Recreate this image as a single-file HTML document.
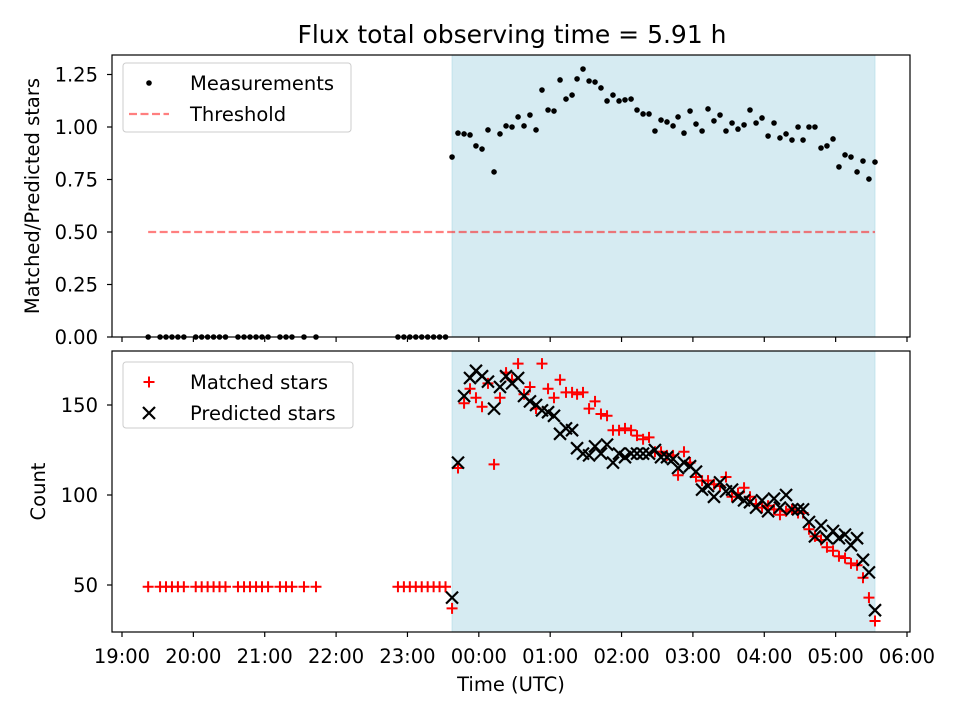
<!DOCTYPE html>
<html><head><meta charset="utf-8"><style>
html,body{margin:0;padding:0;background:#fff;}
svg{display:block;font-family:"DejaVu Sans","Liberation Sans",sans-serif;}
</style></head><body>
<svg id="chart" width="960" height="720" viewBox="0 0 960 720">
<text x="512" y="43" font-size="25" text-anchor="middle">Flux total observing time = 5.91 h</text>
<g id="topPanel"></g>
<g id="botPanel"></g>
</svg>
<script>
// time in minutes after 19:00
const earlyTimes=[22,32,37,42,47,52,62,67,72,77,82,87,97.5,102.6,107.6,112.7,117.7,122.8,132.8,137.9,142.9,153,163.1,232,237,242,247,252,257,262,267,272];
const earlyMatched=[49,49,49,49,49,49,49,49,49,49,49,49,49,49,49,49,49,49,49,49,49,49,49,49,49,49,49,49,49,49,49,49];
const earlyRatio=[0,0,0,0,0,0,0,0,0,0,0,0,0,0,0,0,0,0,0,0,0,0,0,0,0,0,0,0,0,0,0,0];
const obsTimes=[277.5,282.5,287.6,292.6,297.6,302.7,307.7,312.8,317.8,322.9,327.9,333.0,338.0,343.0,348.1,353.1,358.2,363.2,368.3,373.3,378.4,382.6,387.6,392.7,397.7,402.7,407.8,412.8,417.9,422.9,428.0,433.0,438.1,443.1,448.1,453.2,458.2,463.3,467.5,472.5,477.6,482.6,487.7,492.7,497.7,502.8,507.8,512.9,517.9,523.0,528.0,533.1,538.1,543.2,548.2,553.2,558.3,563.3,568.4,572.6,577.6,582.6,587.7,592.7,597.8,602.8,607.9,612.9,618.0,623.0,628.0,633.1];
const ratio=[0.857,0.971,0.967,0.962,0.91,0.895,0.986,0.786,0.967,1.005,1.0,1.048,1.005,1.057,0.986,1.176,1.081,1.076,1.224,1.133,1.152,1.229,1.276,1.219,1.214,1.186,1.124,1.152,1.124,1.129,1.133,1.081,1.062,1.062,0.981,1.033,1.024,1.005,1.048,0.971,1.076,1.014,0.981,1.086,1.029,1.057,0.981,1.019,0.99,1.01,1.081,1.019,1.043,0.957,1.019,0.948,0.967,0.938,1.0,0.938,1.0,1.0,0.9,0.91,0.943,0.81,0.867,0.857,0.786,0.838,0.752,0.833];
const matched=[37,115,151,159,154,149,162,117,154,168,164,173,156,160,148,173,159,154,164,157,157,156,157,148,152,145,144,136,136,137,136,133,131,132,124,124,122,122,111,124,118,110,108,108,106,105,110,99,101,104,99,95,93,94,92,89,91,92,90,90,81,77,75,71,69,66,65,62,61,54,43,30];
const predicted=[43,118,155,165,169,166,163,148,160,166,162,165,155,152,150,147,146,144,134,137,136,126,123,122,127,123,128,118,123,121,123,123,123,123,125,121,121,120,115,118,116,113,103,105,99,107,102,103,99,97,96,93,97,91,98,93,100,92,92,92,85,77,83,76,80,76,78,72,76,64,57,36];
const thresholdValue=0.5;
const xTickLabels=["19:00","20:00","21:00","22:00","23:00","00:00","01:00","02:00","03:00","04:00","05:00","06:00"];
const xTickMinutes=[0,60,120,180,240,300,360,420,480,540,600,660];
const topTicks=[0,0.25,0.5,0.75,1.0,1.25];
const botTicks=[50,100,150];

const NS="http://www.w3.org/2000/svg";
const FS=19.5;
function mk(parent,tag,attrs){const e=document.createElementNS(NS,tag);for(const k in attrs)e.setAttribute(k,attrs[k]);parent.appendChild(e);return e;}
const L=112,R=910;
const xs=m=>122+m*(785/660);
const PT={t:55,b:337}, PB={t:351,b:632};
const yTop=v=>337-v*210;
const yBot=v=>585-(v-50)*1.8;
const gTop=document.getElementById('topPanel'), gBot=document.getElementById('botPanel');
const allT=earlyTimes.concat(obsTimes);
const tFirst=Math.min(...allT), tLast=Math.max(...allT);

function panel(g,P,yf,ticks,fmt,label,showX){
  mk(g,'rect',{x:L,y:P.t,width:R-L,height:P.b-P.t,fill:'#fff'});
  const sp=mk(g,'rect',{x:xs(obsTimes[0]),y:P.t,width:xs(obsTimes[obsTimes.length-1])-xs(obsTimes[0]),height:P.b-P.t,fill:'#add8e6','fill-opacity':0.5,stroke:'#add8e6','stroke-opacity':0.6});
  
  
  ticks.forEach(v=>{
    const y=yf(v);
    mk(g,'line',{x1:L-5,x2:L,y1:y,y2:y,stroke:'#000','stroke-width':1.2});
    const t=mk(g,'text',{x:L-14,y:y+7,'font-size':FS,'text-anchor':'end'});t.textContent=fmt(v);
    
    
  });
  xTickMinutes.forEach((m,i)=>{
    const x=xs(m);
    mk(g,'line',{x1:x,x2:x,y1:P.b,y2:P.b+5,stroke:'#000','stroke-width':1.2});
    if(showX){const t=mk(g,'text',{x:x,y:P.b+31,'font-size':FS,'text-anchor':'middle'});t.textContent=xTickLabels[i];
      
      }
  });
  const yl=mk(g,'text',{x:0,y:0,'font-size':FS,'text-anchor':'middle',transform:`translate(${label[1]},${(P.t+P.b)/2}) rotate(-90)`});
  yl.textContent=label[0];
  
  
}
panel(gTop,PT,yTop,topTicks,v=>v.toFixed(2),['Matched/Predicted stars',39],false);
panel(gBot,PB,yBot,botTicks,v=>String(v),['Count',45],true);

const th=mk(gTop,'line',{x1:xs(tFirst),x2:xs(tLast),y1:yTop(thresholdValue),y2:yTop(thresholdValue),stroke:'#f00','stroke-opacity':0.5,'stroke-width':2.2,'stroke-dasharray':'8,3.5'});


earlyTimes.forEach((t,i)=>{const c=mk(gTop,'circle',{cx:xs(t),cy:yTop(earlyRatio[i]),r:2.8,fill:'#000'});
  
  });
obsTimes.forEach((t,i)=>{const c=mk(gTop,'circle',{cx:xs(t),cy:yTop(ratio[i]),r:2.8,fill:'#000'});
  
  });

const cp=mk(gBot,'clipPath',{id:'bc'});
mk(cp,'rect',{x:L,y:PB.t,width:R-L,height:PB.b-PB.t});
const bg2=mk(gBot,'g',{'clip-path':'url(#bc)'});
function plus(x,y){const p=mk(bg2,'path',{d:`M${x-5.5},${y}H${x+5.5}M${x},${y-5.5}V${y+5.5}`,stroke:'#f00','stroke-width':2});
  
  }
function cross(x,y){const p=mk(bg2,'path',{d:`M${x-6},${y-6}L${x+6},${y+6}M${x-6},${y+6}L${x+6},${y-6}`,stroke:'#000','stroke-width':2.2});
  
  }
earlyTimes.forEach((t,i)=>plus(xs(t),yBot(earlyMatched[i])));
obsTimes.forEach((t,i)=>plus(xs(t),yBot(matched[i])));
obsTimes.forEach((t,i)=>cross(xs(t),yBot(predicted[i])));

[[PT,gTop],[PB,gBot]].forEach(([P,g])=>{const f=mk(g,'rect',{x:L,y:P.t,width:R-L,height:P.b-P.t,fill:'none',stroke:'#000','stroke-width':1.2});
  
  });
const xt=mk(gBot,'text',{x:511,y:691,'font-size':FS,'text-anchor':'middle'});xt.textContent='Time (UTC)';



function legend(g,x,y,w,h,items){
  const lg=mk(g,'g',{});
  
  
  mk(lg,'rect',{x:x,y:y,width:w,height:h,rx:3,fill:'#fff','fill-opacity':0.8,stroke:'#ccc'});
  items.forEach((it,i)=>{
    const cy=y+20+i*31;
    const e=mk(lg,'g',{});
    
    
    it.draw(e,x+26,cy);
    const t=mk(e,'text',{x:x+67,y:cy+7,'font-size':FS});t.textContent=it.label;
  });
}
legend(gTop,123,63,228,69,[
 {label:'Measurements',draw:(e,x,y)=>mk(e,'circle',{cx:x,cy:y,r:2.8,fill:'#000'})},
 {label:'Threshold',draw:(e,x,y)=>mk(e,'line',{x1:x-20,x2:x+20,y1:y,y2:y,stroke:'#f00','stroke-opacity':0.5,'stroke-width':2.2,'stroke-dasharray':'8,3.5'})}
]);
legend(gBot,123,362,230,66,[
 {label:'Matched stars',draw:(e,x,y)=>mk(e,'path',{d:`M${x-5.5},${y}H${x+5.5}M${x},${y-5.5}V${y+5.5}`,stroke:'#f00','stroke-width':2})},
 {label:'Predicted stars',draw:(e,x,y)=>mk(e,'path',{d:`M${x-6},${y-6}L${x+6},${y+6}M${x-6},${y+6}L${x+6},${y-6}`,stroke:'#000','stroke-width':2.2})}
]);
</script>
</body></html>
